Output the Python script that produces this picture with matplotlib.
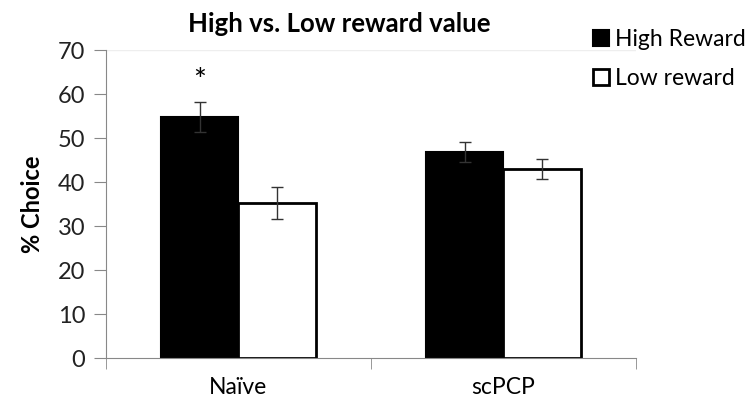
import numpy as np
import matplotlib.pyplot as plt

groups = ["Naïve", "scPCP"]
series = ["High Reward", "Low reward"]
high = [54.8, 46.9]
high_err = [3.4, 2.3]
low = [35.3, 43.0]
low_err = [3.6, 2.3]
yticks = [0, 10, 20, 30, 40, 50, 60, 70]

plt.rcParams['font.family'] = ['Lato', 'DejaVu Sans']

fig = plt.figure(figsize=(7.47, 4.05), dpi=100)
ax = fig.add_axes([0.1419, 0.116, 0.7095, 0.7605])

x = np.arange(len(groups))
w = 0.293
ax.bar(x - w / 2, high, w, color="black", edgecolor="black", linewidth=1.5,
       label=series[0], zorder=2)
ax.bar(x + w / 2, low, w, color="white", edgecolor="black", linewidth=2,
       label=series[1], zorder=2)
ax.errorbar(x - w / 2, high, yerr=high_err, fmt="none", ecolor="#333333",
            elinewidth=1, capsize=4.5, capthick=1, zorder=3)
ax.errorbar(x + w / 2, low, yerr=low_err, fmt="none", ecolor="#333333",
            elinewidth=1, capsize=4.5, capthick=1, zorder=3)
ax.text(x[0] - w / 2, 63, "*", ha="center", va="center", fontsize=22)

ax.set_xlim(-0.5, 1.5)
ax.set_ylim(0, 70)
ax.set_yticks(yticks)
ax.set_xticks(x)
ax.set_xticklabels(groups, fontsize=16.5)
ax.set_xticks([-0.5, 0.5, 1.5], minor=True)
ax.tick_params(axis="x", which="major", length=0, pad=14)
ax.tick_params(axis="x", which="minor", length=8, color="#888888")
ax.tick_params(axis="y", length=9, color="#888888", labelsize=17,
               labelcolor="#222222", pad=6)
for s in ["top", "right"]:
    ax.spines[s].set_visible(False)
for s in ["left", "bottom"]:
    ax.spines[s].set_color("#888888")
ax.axhline(70, color="#eeeeee", linewidth=1, zorder=0)

ax.set_ylabel("% Choice", fontsize=17, fontweight="bold", labelpad=10)
ax.set_title("High vs. Low reward value", fontsize=18.5, fontweight="bold",
             pad=13, x=0.44)

ax.legend(loc="upper left", bbox_to_anchor=(0.782, 0.95),
          bbox_transform=fig.transFigure, frameon=False, fontsize=16.5,
          handlelength=0.7, handleheight=0.7, handletextpad=0.25,
          labelspacing=0.75, borderaxespad=0)

fig.savefig("out.png", dpi=100)
